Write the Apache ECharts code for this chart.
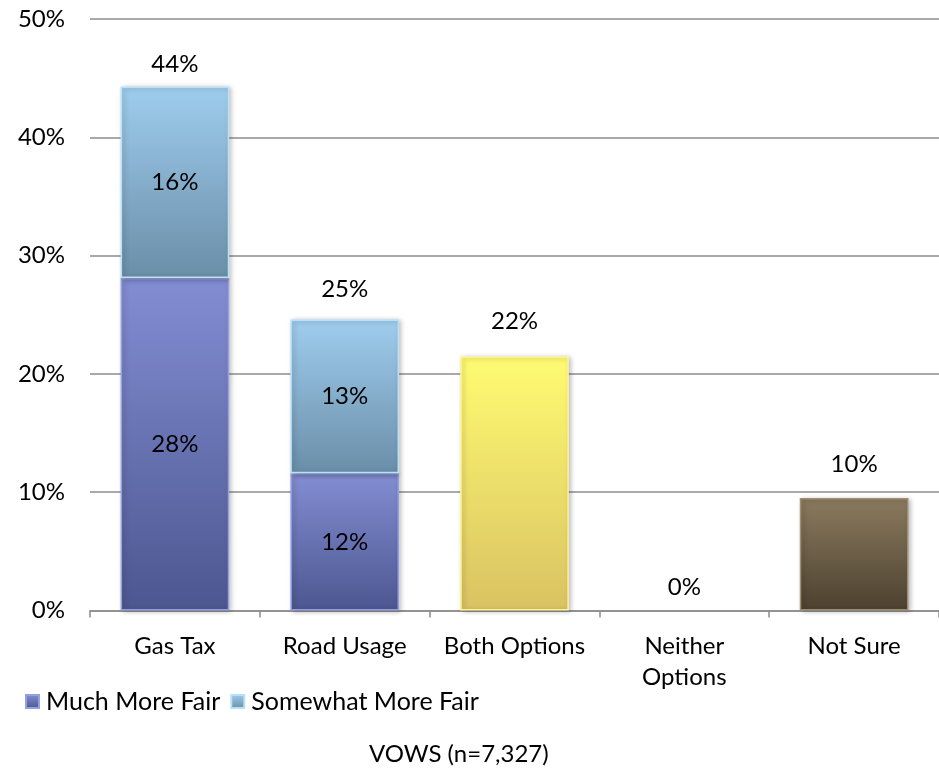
<!DOCTYPE html>
<html>
<head>
<meta charset="utf-8">
<script src="https://cdn.jsdelivr.net/npm/echarts@6/dist/echarts.min.js"></script>
<style>
html,body{margin:0;padding:0;background:#fff;}
#c{width:939px;height:770px;}
</style>
</head>
<body>
<div id="c"></div>
<script>
// ---- data ----
const categories = ['Gas Tax', 'Road Usage', 'Both Options', 'Neither\nOptions', 'Not Sure'];
const muchMoreFair = [28.1, 11.6, null, null, null];
const somewhatMoreFair = [16.2, 13.0, null, null, null];
const otherAnswers = [null, null, 21.5, 0, 9.5];
const yTicks = [0, 10, 20, 30, 40, 50];
const titleText = 'VOWS (n=7,327)';

// ---- styling ----
const FONT = 'Lato';
const FS = 24;
function grad(top, bottom) {
  return new echarts.graphic.LinearGradient(0, 0, 0, 1, [
    { offset: 0, color: top }, { offset: 1, color: bottom }
  ]);
}
const muchStyle = { color: grad('#838dd3', '#4c5790'), borderColor: '#95a0e0', borderWidth: 1.5 };
const somewhatStyle = { color: grad('#9fcdee', '#6a8ea8'), borderColor: '#b9e0f6', borderWidth: 1.5 };
const otherStyles = [null, null,
  { color: grad('#fffb72', '#d9c262'), borderColor: '#fff49a', borderWidth: 1.5 },
  { color: grad('#8a7a5e', '#4d4130'), borderWidth: 0 },
  { color: grad('#8a7a5e', '#4d4130'), borderColor: '#9d8f72', borderWidth: 1.5 }
];
const totalLabelGap = [10, 18, 23, 11, 22];
const shadow = { shadowBlur: 5, shadowColor: 'rgba(0,0,0,0.28)', shadowOffsetX: 2, shadowOffsetY: 1 };

const totals = categories.map((_, i) =>
  (muchMoreFair[i] || 0) + (somewhatMoreFair[i] || 0) + (otherAnswers[i] || 0));

const pct = p => Math.round(p.value) + '%';
const innerLabel = { show: true, position: 'inside', formatter: pct, fontFamily: FONT, fontSize: FS, color: '#000' };

const chart = echarts.init(document.getElementById('c'));
chart.setOption({
  animation: false,
  textStyle: { fontFamily: FONT },
  title: {
    text: titleText, left: 364, top: 737,
    textStyle: { fontFamily: FONT, fontSize: FS, fontWeight: 'normal', color: '#000' }
  },
  legend: {
    left: 20, top: 684, itemWidth: 13, itemHeight: 13, itemGap: 10, icon: 'rect',
    data: ['Much More Fair', 'Somewhat More Fair'],
    textStyle: { fontFamily: FONT, fontSize: 25, color: '#000', padding: [0, 0, 0, 2] }
  },
  grid: { left: 90, right: -13, top: 19, bottom: 159.5, containLabel: false },
  xAxis: {
    type: 'category', data: categories,
    axisLine: { lineStyle: { color: '#8c8c8c', width: 1.5 } },
    axisTick: { show: true, length: 7, lineStyle: { color: '#8c8c8c', width: 1.5 } },
    axisLabel: { fontFamily: FONT, fontSize: FS, color: '#000', margin: 20, lineHeight: 31, interval: 0 }
  },
  yAxis: {
    type: 'value', min: yTicks[0], max: yTicks[yTicks.length - 1], interval: 10,
    axisLine: { show: false }, axisTick: { show: false },
    splitLine: { lineStyle: { color: '#8c8c8c', width: 1.5 } },
    axisLabel: { fontFamily: FONT, fontSize: FS, color: '#000', margin: 25, formatter: v => v + '%' }
  },
  series: [
    {
      name: 'Much More Fair', type: 'bar', stack: 'a', barWidth: '64%',
      data: muchMoreFair, itemStyle: Object.assign({}, muchStyle, shadow), label: innerLabel
    },
    {
      name: 'Somewhat More Fair', type: 'bar', stack: 'a', barWidth: '64%',
      data: somewhatMoreFair, itemStyle: Object.assign({}, somewhatStyle, shadow), label: innerLabel
    },
    {
      name: 'Other', type: 'bar', stack: 'a', barWidth: '64%',
      data: otherAnswers.map((v, i) => v === null ? null : { value: v, itemStyle: Object.assign({}, otherStyles[i], v === 0 ? {} : shadow) }),
      label: { show: false }
    },
    {
      name: 'Total', type: 'bar', barWidth: '64%', barGap: '-100%', silent: true, z: 1,
      itemStyle: { color: 'rgba(0,0,0,0)' },
      data: totals.map((v, i) => ({ value: v, label: { distance: totalLabelGap[i] } })),
      label: { show: true, position: 'top', formatter: pct, fontFamily: FONT, fontSize: FS, color: '#000' }
    }
  ]
});
</script>
</body>
</html>
